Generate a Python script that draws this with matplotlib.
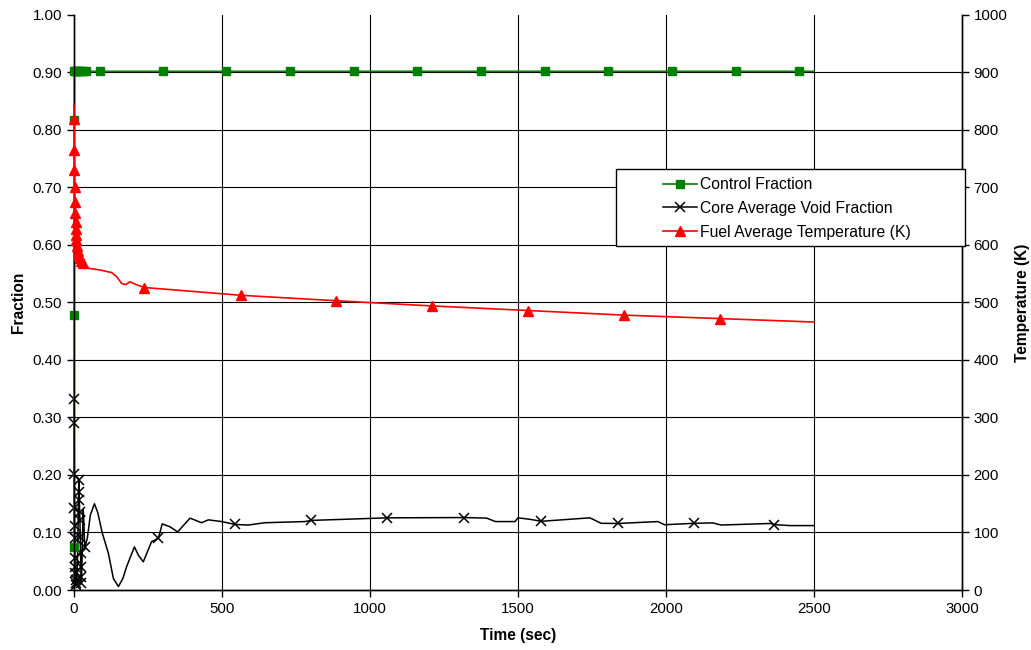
import matplotlib
matplotlib.use("Agg")
import matplotlib.pyplot as plt
from matplotlib.patches import Rectangle

plt.rcParams["font.family"] = ["Liberation Sans", "DejaVu Sans"]
plt.rcParams["font.size"] = 10.8

# Control fraction (left axis)
ctrl_t = [0, 0.5, 1, 1.5, 3, 6, 10, 15, 22, 30, 40, 88, 300, 515, 730, 945,
          1160, 1375, 1590, 1805, 2020, 2235, 2450, 2500]
ctrl_v = [0.075, 0.478, 0.817, 0.902, 0.902, 0.902, 0.902, 0.902, 0.902, 0.902,
          0.902, 0.902, 0.902, 0.902, 0.902, 0.902, 0.902, 0.902, 0.902, 0.902,
          0.902, 0.902, 0.902, 0.902]
ctrl_marks = [0, 0.5, 1, 1.5, 3, 6, 10, 15, 22, 30, 40, 88, 300, 515, 730, 945,
              1160, 1375, 1590, 1805, 2020, 2235, 2450]

# Core average void fraction (left axis)
void_t = [0, 0.5, 1, 1.5, 2, 2.5, 3, 3.5, 4, 5, 6, 8, 10, 12, 14, 16, 17, 18,
          19, 20, 21, 22, 23, 24, 25, 27, 29, 31, 33, 35, 37, 45, 55, 69, 80,
          95, 116, 133, 150, 165, 178, 204, 218, 234, 262, 285, 298, 324, 350,
          392, 431, 454, 499, 544, 589, 645, 780, 800, 974, 1058, 1319, 1394,
          1424, 1490, 1500, 1540, 1579, 1743, 1781, 1838, 1973, 1995, 2096,
          2158, 2186, 2354, 2364, 2420, 2500]
void_v = [0.332, 0.291, 0.201, 0.142, 0.112, 0.090, 0.055, 0.040, 0.029, 0.017,
          0.009, 0.012, 0.030, 0.060, 0.120, 0.191, 0.171, 0.157, 0.136, 0.122,
          0.093, 0.064, 0.040, 0.022, 0.012, 0.050, 0.100, 0.140, 0.120, 0.090,
          0.075, 0.090, 0.130, 0.150, 0.135, 0.100, 0.064, 0.020, 0.006, 0.020,
          0.041, 0.075, 0.060, 0.049, 0.084, 0.090, 0.115, 0.110, 0.101, 0.125,
          0.117, 0.122, 0.119, 0.114, 0.113, 0.117, 0.119, 0.121, 0.124, 0.1255,
          0.126, 0.125, 0.119, 0.119, 0.1255, 0.123, 0.1195, 0.1255, 0.116,
          0.1157, 0.119, 0.1135, 0.116, 0.1167, 0.113, 0.1157, 0.1137, 0.112,
          0.112]
void_marks = [0, 0.5, 1, 1.5, 2, 2.5, 3, 3.5, 4, 5, 6, 8, 16, 17, 18, 19, 20,
              21, 22, 23, 24, 25, 37, 285, 544, 800, 1058, 1319, 1579, 1838,
              2096, 2364]

# Fuel average temperature (right axis, K)
fuel_t = [0, 0.5, 1, 1.5, 2, 3, 4, 5, 6, 7, 8, 10, 12, 15, 19, 24, 31, 48, 88,
          127, 144, 161, 175, 189, 210, 238, 564, 886, 1209, 1535, 1859, 2182,
          2500]
fuel_v = [843, 819, 765, 730, 700, 675, 655, 640, 628, 618, 608, 598, 590, 583,
          577, 572, 569, 559.5, 556.5, 552, 545, 533, 531, 536, 531, 526, 512.5,
          503, 494, 486, 478, 472, 466]
fuel_marks = [0.5, 1, 1.5, 2, 3, 4, 5, 6, 7, 8, 10, 12, 15, 19, 24, 31, 238,
              564, 886, 1209, 1535, 1859, 2182]

x_ticks = [0, 500, 1000, 1500, 2000, 2500, 3000]
left_ticks = [0.0, 0.1, 0.2, 0.3, 0.4, 0.5, 0.6, 0.7, 0.8, 0.9, 1.0]
right_ticks = [0, 100, 200, 300, 400, 500, 600, 700, 800, 900, 1000]


def mark_idx(times, marks):
    return [i for i, t in enumerate(times) if t in marks]


fig = plt.figure(figsize=(10.31, 6.5), dpi=100)
ax = fig.add_axes([0.0718, 0.0923, 0.8612, 0.8847])
ax2 = ax.twinx()

# gridlines (no line at the top, bottom axis and right axis double as edges)
for yv in left_ticks[1:-1]:
    ax.axhline(yv, color="black", lw=0.8, zorder=0)
for xv in x_ticks[1:-1]:
    ax.axvline(xv, color="black", lw=0.8, zorder=0)

l1, = ax.plot(ctrl_t, ctrl_v, color="#008000", lw=1.2, marker="s", ms=6,
              markevery=mark_idx(ctrl_t, ctrl_marks), label="Control Fraction",
              zorder=3, clip_on=False)
l2, = ax.plot(void_t, void_v, color="black", lw=1.1, marker="x", ms=7, mew=1.1,
              markevery=mark_idx(void_t, void_marks),
              label="Core Average Void Fraction", zorder=2, clip_on=False)
l3, = ax2.plot(fuel_t, fuel_v, color="#FF0000", lw=1.2, marker="^", ms=7.5,
               markevery=mark_idx(fuel_t, fuel_marks),
               label="Fuel Average Temperature (K)", zorder=3, clip_on=False)

ax.set_xlim(0, 3000)
ax.set_ylim(0, 1.0)
ax2.set_ylim(0, 1000)
ax.set_xticks(x_ticks)
ax.set_yticks(left_ticks)
ax.set_yticklabels([f"{v:.2f}" for v in left_ticks])
ax2.set_yticks(right_ticks)

for a in (ax, ax2):
    a.spines["top"].set_visible(False)
    for s in a.spines.values():
        s.set_linewidth(1.0)
ax.tick_params(direction="out", length=5, width=1.0, labelsize=10.8)
ax2.tick_params(direction="out", length=5, width=1.0, labelsize=10.8)

ax.set_xlabel("Time (sec)", fontweight="bold", fontsize=11.2, labelpad=9)
ax.set_ylabel("Fraction", fontweight="bold", fontsize=11.2, labelpad=5)
ax2.set_ylabel("Temperature (K)", fontweight="bold", fontsize=11.2, labelpad=5)

# legend box
box = Rectangle((0.610, 0.598), 0.3934, 0.1337, transform=ax2.transAxes,
                facecolor="white", edgecolor="black", lw=1.0, clip_on=False,
                zorder=5)
ax2.add_patch(box)
leg = ax2.legend([l1, l2, l3], [l1.get_label(), l2.get_label(), l3.get_label()],
                 loc="upper left", bbox_to_anchor=(0.663, 0.718), frameon=False,
                 borderpad=0, handlelength=2.2, handletextpad=0.2,
                 labelspacing=0.56, fontsize=11.3, borderaxespad=0)
leg.set_zorder(6)

fig.savefig("out.png", dpi=100)
